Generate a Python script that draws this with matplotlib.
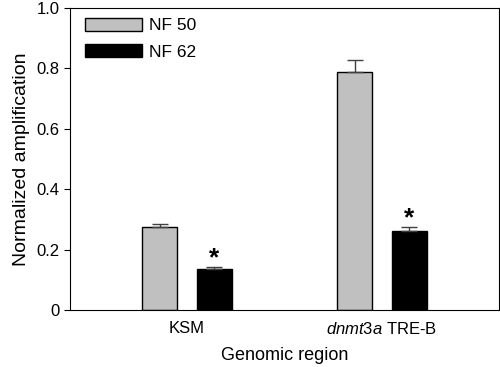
import numpy as np
import matplotlib.pyplot as plt

plt.rcParams['font.family'] = ['Liberation Sans', 'DejaVu Sans']
plt.rcParams['mathtext.fontset'] = 'custom'
plt.rcParams['mathtext.rm'] = 'Liberation Sans'
plt.rcParams['mathtext.it'] = 'Liberation Sans:italic'

# data
regions = ['KSM', r'$\mathit{dnmt3a}$ TRE-B']
nf50 = [0.275, 0.787]
nf62 = [0.137, 0.263]
nf50_err = [0.010, 0.042]
nf62_err = [0.005, 0.012]
stars = ['*', '*']

x = np.arange(1, len(regions) + 1)
w = 0.18
off = 0.14

fig = plt.figure(figsize=(5, 3.67), dpi=100)
ax = fig.add_axes([0.14, 0.155, 0.858, 0.823])

ax.bar(x - off, nf50, w, color='#c0c0c0', edgecolor='black', linewidth=1, label='NF 50',
       yerr=[np.zeros(2), nf50_err], error_kw=dict(ecolor='#404040', capsize=6, elinewidth=1, capthick=1))
ax.bar(x + off, nf62, w, color='black', edgecolor='black', linewidth=1, label='NF 62',
       yerr=[np.zeros(2), nf62_err], error_kw=dict(ecolor='#404040', capsize=6, elinewidth=1, capthick=1))

# significance marks
for i in range(len(regions)):
    ax.text(x[i] + off, nf62[i] + nf62_err[i] - 0.01, stars[i], ha='center', va='bottom',
            fontsize=19, fontweight='bold')

ax.set_xlim(0.4, 2.6)
ax.set_ylim(0, 1.0)
ax.set_yticks([0, 0.2, 0.4, 0.6, 0.8, 1.0])
ax.set_yticklabels(['0', '0.2', '0.4', '0.6', '0.8', '1.0'])
ax.set_xticks(x)
ax.set_xticklabels(regions)
ax.tick_params(axis='x', length=0, labelsize=12, pad=8)
ax.tick_params(axis='y', direction='out', length=4, labelsize=12)
ax.set_xlabel('Genomic region', fontsize=13, labelpad=7)
ax.set_ylabel('Normalized amplification', fontsize=14, labelpad=5)

ax.legend(loc='upper left', frameon=False, fontsize=12.5, handlelength=3.3, handleheight=0.75,
          labelspacing=0.62, handletextpad=0.4, borderaxespad=0, bbox_to_anchor=(0.019, 0.99))

plt.savefig('out.png', dpi=100)
